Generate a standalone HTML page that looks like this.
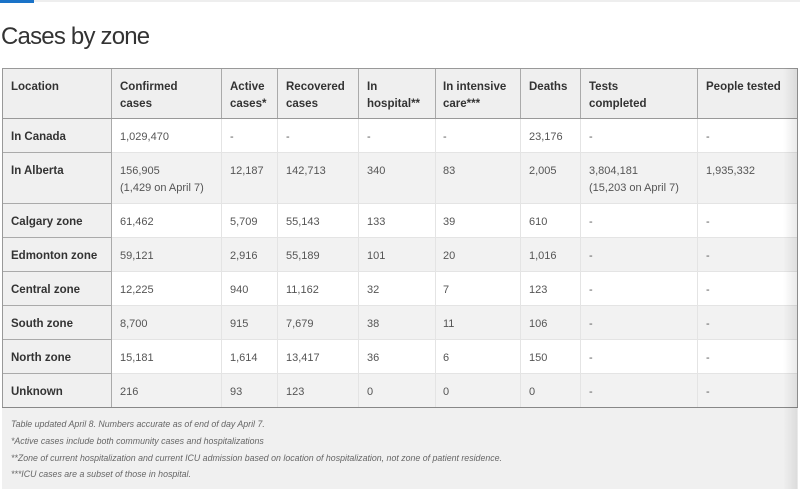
<!DOCTYPE html>
<html><head><meta charset="utf-8"><style>
html,body{margin:0;padding:0;background:#fff;width:800px;height:501px;overflow:hidden;position:relative;font-family:"Liberation Sans",sans-serif}
.a{position:absolute}
.t{position:absolute;font-size:11px;line-height:17px;color:#555;white-space:nowrap;margin-top:2px}
.h{font-weight:bold;font-size:11.5px;color:#333}
.hl{position:absolute;height:1px}
.vl{position:absolute;width:1px}
.f{position:absolute;left:11px;font-size:8.8px;font-style:italic;color:#666;white-space:nowrap;margin-top:1px}
</style></head><body>
<div class="a" style="left:0;top:0;width:800px;height:2px;background:#eee"></div>
<div class="a" style="left:0;top:0;width:34px;height:3px;background:#1a73c8"></div>
<div class="a" style="left:1px;top:22px;font-size:24px;letter-spacing:-0.8px;color:#333;line-height:30px">Cases by zone</div>

<!-- backgrounds -->
<div class="a" style="left:2px;top:68px;width:795px;height:50px;background:#efefef"></div>
<div class="a" style="left:2px;top:152px;width:795px;height:51px;background:#f2f2f2"></div>
<div class="a" style="left:2px;top:237px;width:795px;height:34px;background:#f2f2f2"></div>
<div class="a" style="left:2px;top:305px;width:795px;height:34px;background:#f2f2f2"></div>
<div class="a" style="left:2px;top:373px;width:795px;height:34px;background:#f2f2f2"></div>
<div class="a" style="left:2px;top:118px;width:109px;height:289px;background:#f0f0f0"></div>
<div class="a" style="left:2px;top:408px;width:795px;height:81px;background:#f0f0f0"></div>

<!-- horizontal lines body light -->
<div class="hl" style="left:111px;top:152px;width:686px;background:#e4e4e4"></div>
<div class="hl" style="left:111px;top:203px;width:686px;background:#e4e4e4"></div>
<div class="hl" style="left:111px;top:237px;width:686px;background:#e4e4e4"></div>
<div class="hl" style="left:111px;top:271px;width:686px;background:#e4e4e4"></div>
<div class="hl" style="left:111px;top:305px;width:686px;background:#e4e4e4"></div>
<div class="hl" style="left:111px;top:339px;width:686px;background:#e4e4e4"></div>
<div class="hl" style="left:111px;top:373px;width:686px;background:#e4e4e4"></div>
<!-- first col horizontal dark -->
<div class="hl" style="left:2px;top:152px;width:109px;background:#aaa"></div>
<div class="hl" style="left:2px;top:203px;width:109px;background:#aaa"></div>
<div class="hl" style="left:2px;top:237px;width:109px;background:#aaa"></div>
<div class="hl" style="left:2px;top:271px;width:109px;background:#aaa"></div>
<div class="hl" style="left:2px;top:305px;width:109px;background:#aaa"></div>
<div class="hl" style="left:2px;top:339px;width:109px;background:#aaa"></div>
<div class="hl" style="left:2px;top:373px;width:109px;background:#aaa"></div>
<!-- body vertical light -->
<div class="vl" style="left:221px;top:118px;height:289px;background:#e4e4e4"></div>
<div class="vl" style="left:277px;top:118px;height:289px;background:#e4e4e4"></div>
<div class="vl" style="left:358px;top:118px;height:289px;background:#e4e4e4"></div>
<div class="vl" style="left:435px;top:118px;height:289px;background:#e4e4e4"></div>
<div class="vl" style="left:520px;top:118px;height:289px;background:#e4e4e4"></div>
<div class="vl" style="left:580px;top:118px;height:289px;background:#e4e4e4"></div>
<div class="vl" style="left:697px;top:118px;height:289px;background:#e4e4e4"></div>
<!-- header vertical dark -->
<div class="vl" style="left:221px;top:68px;height:50px;background:#aaa"></div>
<div class="vl" style="left:277px;top:68px;height:50px;background:#aaa"></div>
<div class="vl" style="left:358px;top:68px;height:50px;background:#aaa"></div>
<div class="vl" style="left:435px;top:68px;height:50px;background:#aaa"></div>
<div class="vl" style="left:520px;top:68px;height:50px;background:#aaa"></div>
<div class="vl" style="left:580px;top:68px;height:50px;background:#aaa"></div>
<div class="vl" style="left:697px;top:68px;height:50px;background:#aaa"></div>
<div class="vl" style="left:111px;top:68px;height:339px;background:#aaa"></div>
<div class="vl" style="left:2px;top:68px;height:339px;background:#999"></div>
<div class="vl" style="left:797px;top:68px;height:339px;background:#999"></div>
<!-- outer horizontal -->
<div class="hl" style="left:2px;top:68px;width:796px;background:#999"></div>
<div class="hl" style="left:2px;top:118px;width:796px;background:#999"></div>
<div class="hl" style="left:2px;top:407px;width:796px;background:#888"></div>

<!-- header text -->
<div class="t h" style="left:11px;top:77px">Location</div>
<div class="t h" style="left:120px;top:77px">Confirmed<br>cases</div>
<div class="t h" style="left:230px;top:77px">Active<br>cases*</div>
<div class="t h" style="left:286px;top:77px">Recovered<br>cases</div>
<div class="t h" style="left:367px;top:77px">In<br>hospital**</div>
<div class="t h" style="left:443px;top:77px">In intensive<br>care***</div>
<div class="t h" style="left:529px;top:77px">Deaths</div>
<div class="t h" style="left:589px;top:77px">Tests<br>completed</div>
<div class="t h" style="left:706px;top:77px">People tested</div>

<!-- rows -->
<div class="t h" style="left:11px;top:127px">In Canada</div>
<div class="t" style="left:120px;top:127px">1,029,470</div>
<div class="t" style="left:230px;top:127px">-</div>
<div class="t" style="left:286px;top:127px">-</div>
<div class="t" style="left:367px;top:127px">-</div>
<div class="t" style="left:443px;top:127px">-</div>
<div class="t" style="left:529px;top:127px">23,176</div>
<div class="t" style="left:589px;top:127px">-</div>
<div class="t" style="left:706px;top:127px">-</div>

<div class="t h" style="left:11px;top:161px">In Alberta</div>
<div class="t" style="left:120px;top:161px">156,905<br>(1,429 on April 7)</div>
<div class="t" style="left:230px;top:161px">12,187</div>
<div class="t" style="left:286px;top:161px">142,713</div>
<div class="t" style="left:367px;top:161px">340</div>
<div class="t" style="left:443px;top:161px">83</div>
<div class="t" style="left:529px;top:161px">2,005</div>
<div class="t" style="left:589px;top:161px">3,804,181<br>(15,203 on April 7)</div>
<div class="t" style="left:706px;top:161px">1,935,332</div>

<div class="t h" style="left:11px;top:212px">Calgary zone</div>
<div class="t" style="left:120px;top:212px">61,462</div>
<div class="t" style="left:230px;top:212px">5,709</div>
<div class="t" style="left:286px;top:212px">55,143</div>
<div class="t" style="left:367px;top:212px">133</div>
<div class="t" style="left:443px;top:212px">39</div>
<div class="t" style="left:529px;top:212px">610</div>
<div class="t" style="left:589px;top:212px">-</div>
<div class="t" style="left:706px;top:212px">-</div>

<div class="t h" style="left:11px;top:246px">Edmonton zone</div>
<div class="t" style="left:120px;top:246px">59,121</div>
<div class="t" style="left:230px;top:246px">2,916</div>
<div class="t" style="left:286px;top:246px">55,189</div>
<div class="t" style="left:367px;top:246px">101</div>
<div class="t" style="left:443px;top:246px">20</div>
<div class="t" style="left:529px;top:246px">1,016</div>
<div class="t" style="left:589px;top:246px">-</div>
<div class="t" style="left:706px;top:246px">-</div>

<div class="t h" style="left:11px;top:280px">Central zone</div>
<div class="t" style="left:120px;top:280px">12,225</div>
<div class="t" style="left:230px;top:280px">940</div>
<div class="t" style="left:286px;top:280px">11,162</div>
<div class="t" style="left:367px;top:280px">32</div>
<div class="t" style="left:443px;top:280px">7</div>
<div class="t" style="left:529px;top:280px">123</div>
<div class="t" style="left:589px;top:280px">-</div>
<div class="t" style="left:706px;top:280px">-</div>

<div class="t h" style="left:11px;top:314px">South zone</div>
<div class="t" style="left:120px;top:314px">8,700</div>
<div class="t" style="left:230px;top:314px">915</div>
<div class="t" style="left:286px;top:314px">7,679</div>
<div class="t" style="left:367px;top:314px">38</div>
<div class="t" style="left:443px;top:314px">11</div>
<div class="t" style="left:529px;top:314px">106</div>
<div class="t" style="left:589px;top:314px">-</div>
<div class="t" style="left:706px;top:314px">-</div>

<div class="t h" style="left:11px;top:348px">North zone</div>
<div class="t" style="left:120px;top:348px">15,181</div>
<div class="t" style="left:230px;top:348px">1,614</div>
<div class="t" style="left:286px;top:348px">13,417</div>
<div class="t" style="left:367px;top:348px">36</div>
<div class="t" style="left:443px;top:348px">6</div>
<div class="t" style="left:529px;top:348px">150</div>
<div class="t" style="left:589px;top:348px">-</div>
<div class="t" style="left:706px;top:348px">-</div>

<div class="t h" style="left:11px;top:382px">Unknown</div>
<div class="t" style="left:120px;top:382px">216</div>
<div class="t" style="left:230px;top:382px">93</div>
<div class="t" style="left:286px;top:382px">123</div>
<div class="t" style="left:367px;top:382px">0</div>
<div class="t" style="left:443px;top:382px">0</div>
<div class="t" style="left:529px;top:382px">0</div>
<div class="t" style="left:589px;top:382px">-</div>
<div class="t" style="left:706px;top:382px">-</div>

<!-- footer -->
<div class="f" style="top:418px">Table updated April 8. Numbers accurate as of end of day April 7.</div>
<div class="f" style="top:435px">*Active cases include both community cases and hospitalizations</div>
<div class="f" style="top:452px">**Zone of current hospitalization and current ICU admission based on location of hospitalization, not zone of patient residence.</div>
<div class="f" style="top:468px">***ICU cases are a subset of those in hospital.</div>

<!-- right shadow -->
<div class="a" style="left:783px;top:68px;width:15px;height:421px;background:linear-gradient(to right,rgba(0,0,0,0),rgba(0,0,0,0.09))"></div>
</body></html>
